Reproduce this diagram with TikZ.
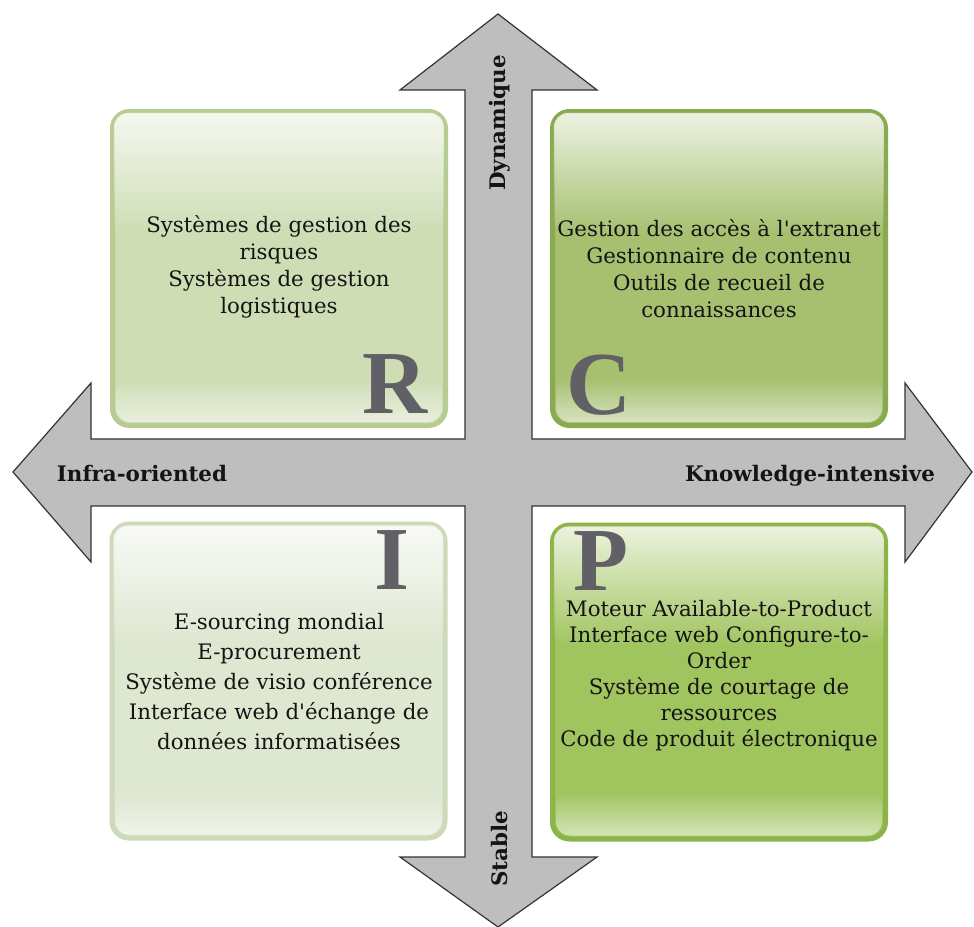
\documentclass[tikz,border=0pt]{standalone}
\usepackage{fontspec}
\setmainfont{DejaVu Serif}
\newfontfamily\letterfont{Liberation Serif}
\usetikzlibrary{fadings}

\definecolor{crossgray}{RGB}{190,190,190}
\definecolor{lettergray}{RGB}{96,96,102}
\definecolor{rfill}{RGB}{206,221,180}
\definecolor{rborder}{RGB}{182,204,146}
\definecolor{cfill}{RGB}{166,192,112}
\definecolor{cborder}{RGB}{136,170,80}
\definecolor{ifill}{RGB}{222,231,208}
\definecolor{iborder}{RGB}{205,218,186}
\definecolor{pfill}{RGB}{160,196,94}
\definecolor{pborder}{RGB}{140,180,72}

\begin{document}
\begin{tikzpicture}[x=1pt,y=-1pt,
    quad/.style={line width=5pt, rounded corners=17pt, minimum width=333pt, minimum height=314pt, inner sep=0pt},
    itemtext/.style={align=center, inner sep=0pt, font=\fontsize{21.3}{27}\selectfont, text=black!92},
    bigletter/.style={inner sep=0pt, font=\letterfont\bfseries\fontsize{90}{90}\selectfont, text=lettergray},
    axislabel/.style={inner sep=0pt, font=\fontsize{21.4}{24}\selectfont\bfseries, text=black!92}]
\useasboundingbox (0,0) rectangle (974,926);

% the cross of arrows
\draw[fill=crossgray, draw=black!80, line width=1.2pt, line join=miter]
    (498,14) -- (597,90) -- (532,90) -- (532,439) -- (905,439) -- (905,383)
    -- (972,472) -- (905,562) -- (905,506) -- (532,506) -- (532,857)
    -- (597,857) -- (498,927) -- (400,857) -- (465,857) -- (465,506)
    -- (91,506) -- (91,562) -- (13,472) -- (91,383) -- (91,439)
    -- (465,439) -- (465,90) -- (400,90) -- cycle;

% the four quadrants
\node[quad, draw=rborder, fill=rfill] (boxR) at (279,268.5) {};
\node[quad, draw=cborder, fill=cfill] (boxC) at (719,268.5) {};
\node[quad, draw=iborder, fill=ifill] (boxI) at (278.5,681) {};
\node[quad, draw=pborder, fill=pfill] (boxP) at (719,682) {};

% glossy highlights
\foreach \b in {boxR,boxC,boxI,boxP}{
    \fill[white, opacity=0.8, path fading=south, rounded corners=14pt]
        ([xshift=4pt,yshift=-4pt]\b.north west) rectangle ([xshift=-4pt,yshift=-125pt]\b.north east);
    \fill[white, opacity=0.55, path fading=north, rounded corners=14pt]
        ([xshift=6pt,yshift=50pt]\b.south west) rectangle ([xshift=-6pt,yshift=6pt]\b.south east);
}

% texts
\node[itemtext] (txtR) at (279,267) {Systèmes de gestion des\\ risques\\ Systèmes de gestion\\ logistiques};
\node[itemtext] (txtC) at (719,269) {Gestion des accès à l\textquotesingle extranet\\ Gestionnaire de contenu\\ Outils de recueil de\\ connaissances};
\node[itemtext, font=\fontsize{21.3}{30}\selectfont] (txtI) at (279,682) {E-sourcing mondial\\ E-procurement\\ Système de visio conférence\\ Interface web d\textquotesingle échange de\\ données informatisées};
\node[itemtext, font=\fontsize{21.3}{26}\selectfont] (txtP) at (719,676) {Moteur Available-to-Product\\ Interface web Configure-to-\\ Order\\ Système de courtage de\\ ressources\\ Code de produit électronique};

% big letters
\node[bigletter, anchor=base] (letR) at (395,413) {R};
\node[bigletter, anchor=base] (letC) at (599,414) {C};
\node[bigletter, anchor=base] (letI) at (392,589) {I};
\node[bigletter, anchor=base] (letP) at (601,590) {P};

% axis labels
\node[axislabel, anchor=base] (lblInfra) at (142,481) {Infra-oriented};
\node[axislabel, anchor=base] (lblKnow) at (810,481) {Knowledge-intensive};
\node[axislabel, rotate=90] (lblDyn) at (500,123) {Dynamique};
\node[axislabel, rotate=90] (lblStable) at (500,849) {Stable};
\end{tikzpicture}
\end{document}
